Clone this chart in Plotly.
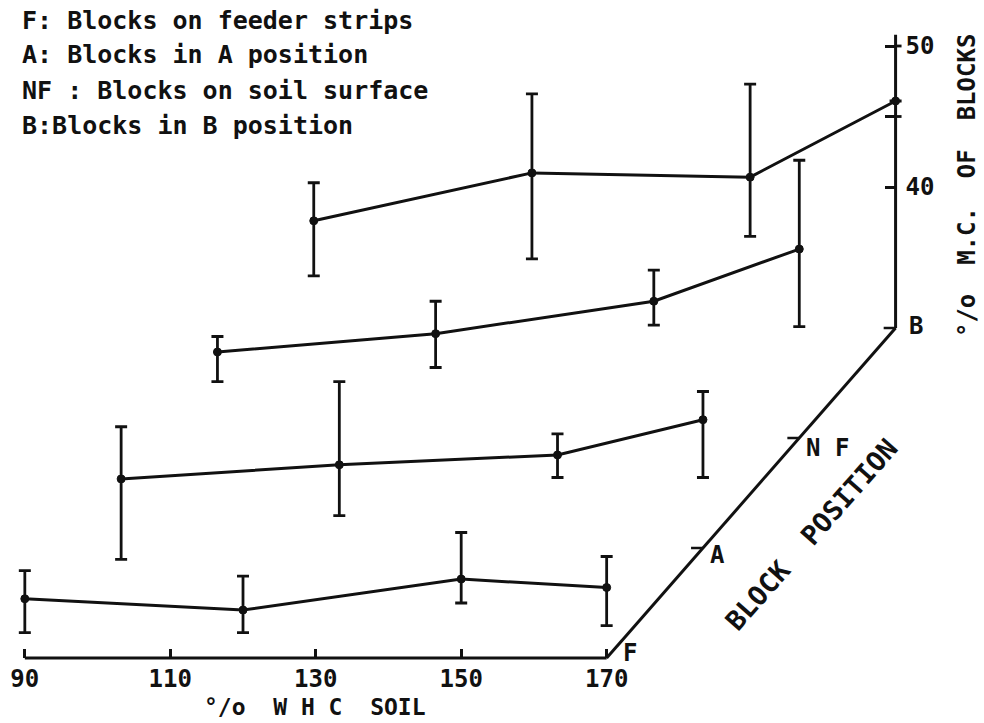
import plotly.graph_objects as go

# ---------------- data ----------------
whc = [90, 120, 150, 170]
positions = ["F", "A", "NF", "B"]
mc_mean = {
    "F":  [34.2, 33.4, 35.6, 35.0],
    "A":  [34.9, 35.9, 36.6, 39.1],
    "NF": [36.1, 37.4, 39.7, 43.4],
    "B":  [37.6, 41.0, 40.7, 46.1],
}
mc_high = {
    "F":  [36.2, 35.8, 38.9, 37.2],
    "A":  [38.6, 41.8, 38.1, 41.1],
    "NF": [37.2, 39.7, 41.9, 49.7],
    "B":  [40.3, 46.6, 47.3, 46.1],
}
mc_low = {
    "F":  [31.8, 31.8, 33.9, 32.3],
    "A":  [29.2, 32.3, 35.0, 35.0],
    "NF": [34.0, 35.0, 38.0, 37.9],
    "B":  [33.7, 34.9, 36.5, 46.1],
}
x_ticks = [90, 110, 130, 150, 170]
y_ticks = [40, 45, 50]
y_ticktext = ["40", "", "50"]
depth_labels = ["F", "A", "N F", "B"]
legend_lines = [
    "F: Blocks on feeder strips",
    "A: Blocks in A position",
    "NF : Blocks on soil surface",
    "B:Blocks in B position",
]

# ---------------- geometry (oblique projection) ----------------
W, H = 984, 723
X0_PX, Y0_PX = 25, 658          # pixel of (whc=90, mc=30) on the F plane
PX_WHC, PX_MC = 7.325, 14.1     # pixel per unit
STEP = (97, -110)               # pixel shift between successive block positions
XR = [88, 172]
YR = [28, 51.5]


def to_paper(k, x, y):
    px = X0_PX + STEP[0] * k + (x - 90) * PX_WHC
    py = Y0_PX + STEP[1] * k - (y - 30) * PX_MC
    return px / W, 1 - py / H


FONT = "DejaVu Sans Mono"
BLACK = "#111111"


def tfont(size):
    return dict(family=FONT, size=size, color=BLACK, weight="bold")


fig = go.Figure()

for k, pos in enumerate(positions):
    sfx = "" if k == 0 else str(k + 1)
    mean = mc_mean[pos]
    plus = [h - m for h, m in zip(mc_high[pos], mean)]
    minus = [m - l for l, m in zip(mc_low[pos], mean)]
    fig.add_trace(go.Scatter(
        x=whc, y=mean, mode="lines+markers",
        xaxis="x" + sfx, yaxis="y" + sfx,
        line=dict(color=BLACK, width=3),
        marker=dict(size=8, color=BLACK, line=dict(color=BLACK, width=1)),
        error_y=dict(type="data", symmetric=False, array=plus, arrayminus=minus,
                     color=BLACK, thickness=2.8, width=6, visible=True),
        cliponaxis=False, showlegend=False, name=pos,
    ))
    xd0, yd0 = to_paper(k, XR[0], YR[0])
    xd1, yd1 = to_paper(k, XR[1], YR[1])
    xa = dict(domain=[xd0, xd1], range=XR, visible=False, fixedrange=True)
    ya = dict(domain=[yd0, yd1], range=YR, visible=False, fixedrange=True)
    if k == 0:
        xa.update(visible=True, anchor="free", position=to_paper(0, 90, 30)[1],
                  showline=False, showgrid=False, zeroline=False,
                  tickvals=x_ticks, ticks="inside", ticklen=9, tickwidth=2.8,
                  tickcolor=BLACK, ticklabelstandoff=4, tickfont=tfont(24))
    else:
        xa.update(anchor="y" + sfx)
        ya.update(anchor="x" + sfx)
    if k == 3:
        ya.update(visible=True, anchor="free", side="right",
                  position=to_paper(3, 170, 30)[0],
                  showline=False, showgrid=False, zeroline=False,
                  tickvals=y_ticks, ticktext=y_ticktext, ticks="inside",
                  ticklen=11, tickwidth=2.8, tickcolor=BLACK,
                  ticklabelstandoff=9, tickfont=tfont(24))
    key = "" if k == 0 else str(k + 1)
    fig.layout["xaxis" + key] = xa
    fig.layout["yaxis" + key] = ya

shapes = []
# x axis line of F plane
a = to_paper(0, 90, 30); b = to_paper(0, 170, 30)
shapes.append(dict(type="line", xref="paper", yref="paper", x0=a[0], y0=a[1], x1=b[0], y1=b[1],
                   line=dict(color=BLACK, width=3)))
# depth axis
c = to_paper(3, 170, 30)
shapes.append(dict(type="line", xref="paper", yref="paper", x0=b[0], y0=b[1], x1=c[0], y1=c[1],
                   line=dict(color=BLACK, width=3)))
# vertical axis
d = to_paper(3, 170, 50.8)
shapes.append(dict(type="line", xref="paper", yref="paper", x0=c[0], y0=c[1], x1=d[0], y1=d[1],
                   line=dict(color=BLACK, width=3)))
# short right-hand parts of the 45 and 50 ticks (they cross the axis)
for v in (45, 50):
    p = to_paper(3, 170, v)
    q = to_paper(3, 170 + 6 / PX_WHC, v)
    shapes.append(dict(type="line", xref="paper", yref="paper", x0=p[0], y0=p[1], x1=q[0], y1=q[1],
                       line=dict(color=BLACK, width=2.8)))
# depth ticks
for k in range(1, 4):
    p = to_paper(k, 170, 30)
    q = to_paper(k, 170 - 12 / PX_WHC, 30)
    shapes.append(dict(type="line", xref="paper", yref="paper", x0=q[0], y0=q[1], x1=p[0], y1=p[1],
                       line=dict(color=BLACK, width=2.5)))

annotations = []
lab_shift = [(14, 5), (5, -7), (5, -10), (11, 2)]
for k, lab in enumerate(depth_labels):
    p = to_paper(k, 170, 30)
    annotations.append(dict(x=p[0], y=p[1], xref="paper", yref="paper", text=lab,
                            showarrow=False, xanchor="left", yanchor="middle",
                            xshift=lab_shift[k][0], yshift=lab_shift[k][1],
                            font=tfont(24)))

for i, line in enumerate(legend_lines):
    annotations.append(dict(x=20 / W, y=1 - (20 + 35 * i) / H, xref="paper", yref="paper",
                            text=line, showarrow=False, xanchor="left", yanchor="middle",
                            font=tfont(25)))

annotations.append(dict(x=317 / W, y=1 - 707 / H, xref="paper", yref="paper",
                        text="°/o  W H C  SOIL", showarrow=False, xanchor="center", yanchor="middle",
                        font=tfont(23)))
annotations.append(dict(x=974 / W, y=1 - 186 / H, xref="paper", yref="paper",
                        text="°/o  M.C.  OF  BLOCKS", showarrow=False, textangle=-90,
                        xanchor="center", yanchor="middle",
                        font=tfont(24)))
annotations.append(dict(x=817 / W, y=1 - 534 / H, xref="paper", yref="paper",
                        text="BLOCK  POSITION", showarrow=False, textangle=-48.6,
                        xanchor="center", yanchor="middle",
                        font=tfont(27)))

fig.update_layout(width=W, height=H, margin=dict(l=0, r=0, t=0, b=0),
                  paper_bgcolor="white", plot_bgcolor="rgba(0,0,0,0)",
                  shapes=shapes, annotations=annotations, showlegend=False)

fig.write_html("out.html", config={"displayModeBar": False})
